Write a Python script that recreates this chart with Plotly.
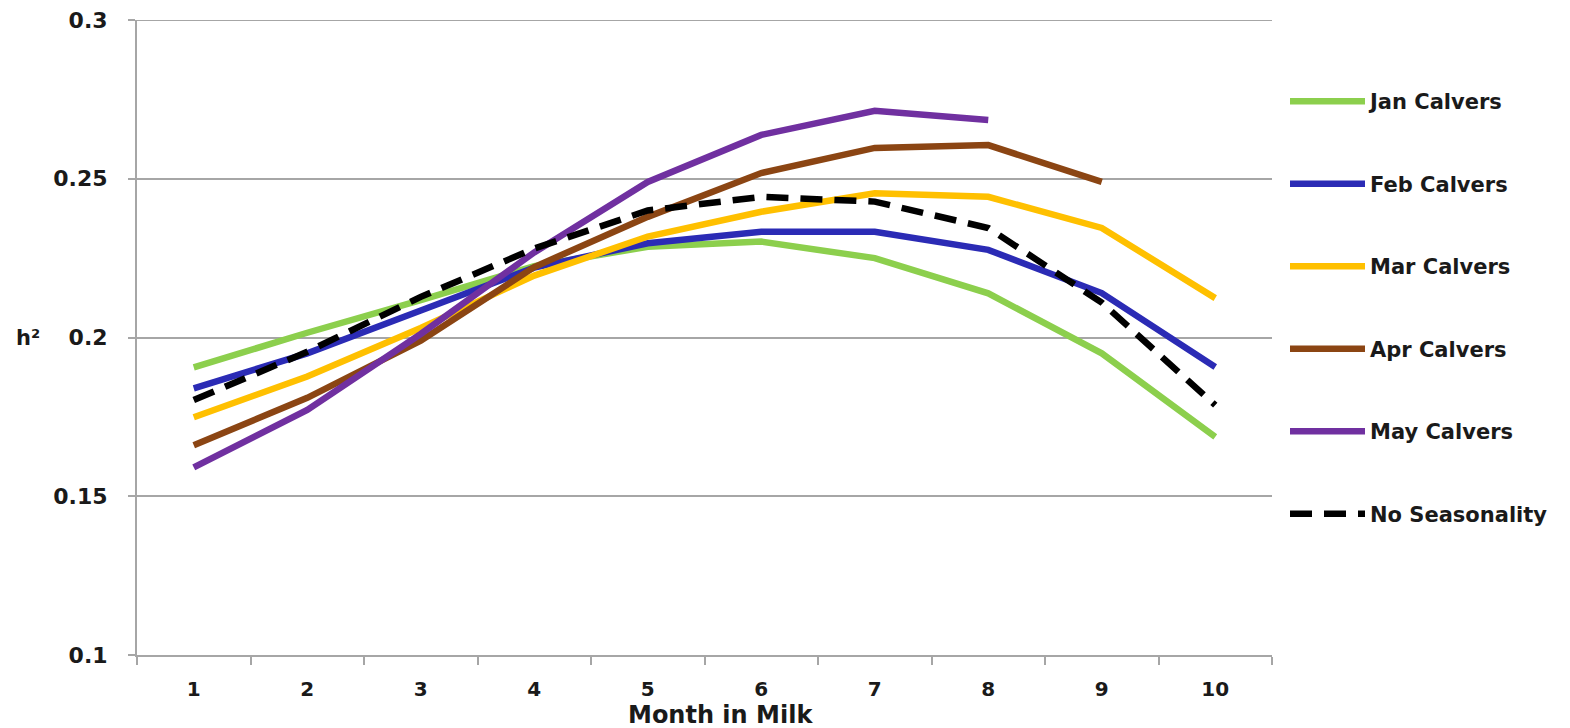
import plotly.graph_objects as go

months = ["1", "2", "3", "4", "5", "6", "7", "8", "9", "10"]
jan = [0.1906, 0.2015, 0.2118, 0.2225, 0.2286, 0.2302, 0.2250, 0.2139, 0.1950, 0.1687]
feb = [0.1840, 0.1950, 0.2085, 0.2220, 0.2297, 0.2333, 0.2333, 0.2276, 0.2140, 0.1907]
mar = [0.1749, 0.1877, 0.2030, 0.2195, 0.2318, 0.2396, 0.2454, 0.2443, 0.2345, 0.2124]
apr = [0.1661, 0.1810, 0.1990, 0.2222, 0.2380, 0.2518, 0.2597, 0.2606, 0.2490, None]
may = [0.1591, 0.1772, 0.2011, 0.2268, 0.2490, 0.2638, 0.2714, 0.2685, None, None]
no_season = [0.1803, 0.1955, 0.2128, 0.2280, 0.2400, 0.2443, 0.2428, 0.2345, 0.2110, 0.1787]

series = [
    ("Jan Calvers", jan, "#8CCF4D", "solid"),
    ("Feb Calvers", feb, "#2B2BB5", "solid"),
    ("Mar Calvers", mar, "#FFC000", "solid"),
    ("Apr Calvers", apr, "#8B4513", "solid"),
    ("May Calvers", may, "#7030A0", "solid"),
    ("No Seasonality", no_season, "#000000", "22px,12px"),
]

y_ticks = [0.1, 0.15, 0.2, 0.25, 0.3]
y_ticktext = ["0.1", "0.15", "0.2", "0.25", "0.3"]
y_min, y_max = 0.1, 0.3

FONT = "DejaVu Sans"
TXT = "#1a1a1a"
# the page body has an 8px margin, so the figure is drawn 8px in from the window corner
W, H = 1562, 720
fig = go.Figure()
for i, (name, vals, color, dash) in enumerate(series):
    fig.add_trace(go.Scatter(
        x=months, y=vals, name=name, mode="lines",
        line=dict(color=color, width=6.5, dash=dash),
        legendgroup=str(i), connectgaps=False,
    ))

grid = "#A6A6A6"
fig.update_layout(
    width=W, height=H,
    margin=dict(l=129, r=298, t=12, b=73, autoexpand=False),
    paper_bgcolor="white", plot_bgcolor="white",
    font=dict(family=FONT, color=TXT),
    showlegend=True,
    legend=dict(
        x=1277 / W, xref="container", xanchor="left",
        y=1 - 73 / H, yref="container", yanchor="top",
        font=dict(size=21, family=FONT, weight="bold", color=TXT),
        itemwidth=75, tracegroupgap=52.2, maxheight=700,
        bgcolor="rgba(0,0,0,0)", borderwidth=0,
    ),
    xaxis=dict(
        type="category", range=[-0.5, 9.5], tickson="boundaries", ticks="outside", ticklen=8,
        tickwidth=2, tickcolor=grid, showline=True, linecolor=grid, linewidth=2,
        showgrid=False, automargin=False,
        tickfont=dict(size=20, family=FONT, weight="bold", color=TXT),
        ticklabelstandoff=15,
    ),
    yaxis=dict(
        range=[y_min, y_max], tickvals=y_ticks, ticktext=y_ticktext,
        ticks="outside", ticklen=7, tickwidth=2, tickcolor=grid,
        showline=True, linecolor=grid, linewidth=2, automargin=False,
        showgrid=True, gridcolor=grid, gridwidth=2, zeroline=False,
        tickfont=dict(size=22, family=FONT, weight="bold", color=TXT),
        ticklabelstandoff=16, ticklabeloverflow="allow",
    ),
    shapes=[dict(
        type="line", xref="paper", yref="y", x0=0, x1=1, y0=y_max, y1=y_max,
        line=dict(color=grid, width=2), layer="below",
    )],
    annotations=[
        dict(
            text="h²", xref="paper", yref="paper", x=(20 - 129) / 1135, y=0.5,
            xanchor="center", yanchor="middle", showarrow=False,
            font=dict(size=21, family=FONT, weight="bold", color=TXT),
        ),
        dict(
            text="Month in Milk", xref="paper", yref="paper", x=(712 - 129) / 1135,
            y=-(707 - 647) / 635, xanchor="center", yanchor="middle", showarrow=False,
            font=dict(size=24, family=FONT, weight="bold", color=TXT),
        ),
    ],
)

fig.write_html("out.html")
